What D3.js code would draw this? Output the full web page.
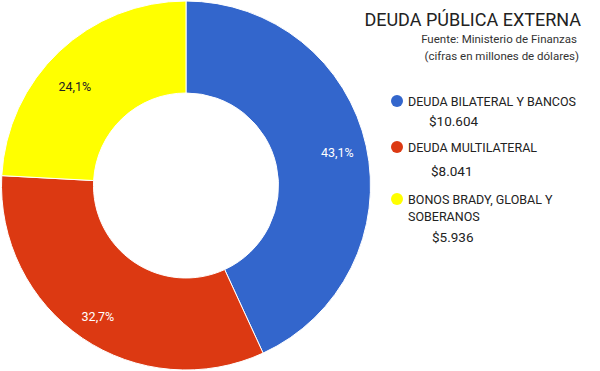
<!DOCTYPE html>
<html><head><meta charset="utf-8">
<script src="https://cdn.jsdelivr.net/npm/d3@7"></script>
<style>body{margin:0;background:#fff}svg{display:block;font-family:Roboto,Arial,sans-serif}</style>
</head><body>
<svg id="c" width="600" height="371"></svg>
<script>
const categories = ["DEUDA BILATERAL Y BANCOS", "DEUDA MULTILATERAL", "BONOS BRADY, GLOBAL Y SOBERANOS"];
const values = [10604, 8041, 5936];
const colors = ["#3366cc", "#dc3912", "#ffff00"];
const labelColors = ["#ffffff", "#ffffff", "#222222"];
const valueLabels = ["$10.604", "$8.041", "$5.936"];
const title = "DEUDA PÚBLICA EXTERNA";
const subtitles = ["Fuente: Ministerio de Finanzas", "(cifras en millones de dólares)"];

const svg = d3.select("#c");
const cx = 186, cy = 185.5, R = 184.5, r = 92.5;
const total = d3.sum(values);
const pie = d3.pie().sort(null).value(d => d)(values);
const arc = d3.arc().innerRadius(r).outerRadius(R);
const g = svg.append("g").attr("transform", `translate(${cx},${cy})`);
g.selectAll("path").data(pie).join("path")
  .attr("d", arc).attr("fill", (d,i) => colors[i])
  .attr("stroke", "#fff").attr("stroke-width", 1);

const fmt = v => (Math.floor(v / total * 1000) / 10).toFixed(1).replace(".", ",") + "%";
const labelOffsets = [[0,0],[-1,3],[-4.5,14]];
const lab = d3.arc().innerRadius(155).outerRadius(155);
g.selectAll("text.pct").data(pie).join("text")
  .attr("class", "pct")
  .attr("x", (d,i) => lab.centroid(d)[0] + labelOffsets[i][0])
  .attr("y", (d,i) => lab.centroid(d)[1] + labelOffsets[i][1])
  .attr("dy", "0.35em").attr("text-anchor", "middle")
  .attr("font-size", 12.5).attr("fill", (d,i) => labelColors[i])
  .text(d => fmt(d.data));

svg.append("text").attr("x", 581).attr("y", 26).attr("text-anchor", "end")
  .attr("font-size", 18).attr("fill", "#222").text(title);
subtitles.forEach((s, i) => svg.append("text").attr("x", i === 0 ? 577 : 579).attr("y", 43 + i * 17)
  .attr("text-anchor", "end").attr("font-size", 11.5).attr("fill", "#333").text(s));

const legendY = [101, 147, 199];
const valueY = [126, 176, 242];
const lines = [["DEUDA BILATERAL Y BANCOS"], ["DEUDA MULTILATERAL"], ["BONOS BRADY, GLOBAL Y", "SOBERANOS"]];
const valueX = [429, 431, 432];
categories.forEach((c, i) => {
  svg.append("circle").attr("cx", 397).attr("cy", legendY[i]).attr("r", 6).attr("fill", colors[i]);
  lines[i].forEach((t, j) => svg.append("text").attr("x", 408).attr("y", legendY[i] + 4.5 + j * 17)
    .attr("font-size", 12.5).attr("fill", "#222").text(t));
  svg.append("text").attr("x", valueX[i]).attr("y", valueY[i]).attr("font-size", 13.5)
    .attr("fill", "#222").text(valueLabels[i]);
});
</script>
</body></html>
